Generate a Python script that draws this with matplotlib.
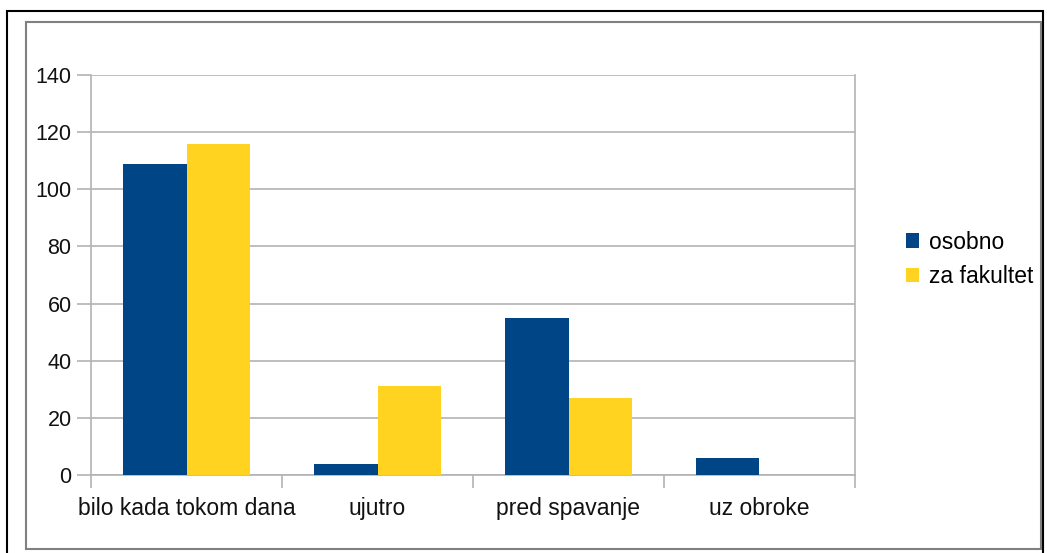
import matplotlib
matplotlib.use("Agg")
import matplotlib.pyplot as plt
import numpy as np
from matplotlib.patches import Rectangle

categories = ["bilo kada tokom dana", "ujutro", "pred spavanje", "uz obroke"]
series_names = ["osobno", "za fakultet"]
osobno = [109, 4, 55, 6]
za_fakultet = [116, 31, 27, 0]
colors = ["#004586", "#ffd320"]

plt.rcParams['font.family'] = ['Liberation Sans', 'DejaVu Sans']

W, H = 1047, 553
fig = plt.figure(figsize=(W / 100, H / 100), dpi=100)

# outer frames
fig.patches.append(Rectangle((7 / W, -0.01), (1043 - 7) / W, (H - 11) / H + 0.01,
                             transform=fig.transFigure, fill=False,
                             edgecolor='black', linewidth=1.5))
fig.patches.append(Rectangle((26 / W, (H - 549) / H), (1041 - 26) / W, (549 - 22) / H,
                             transform=fig.transFigure, fill=False,
                             edgecolor='#808080', linewidth=1.5))

ax = fig.add_axes([91 / W, (H - 475) / H, (855 - 91) / W, 400 / H])

n = len(categories)
x = np.arange(n)
bw = 0.335
ax.bar(x - bw / 2, osobno, width=bw, color=colors[0], label=series_names[0], zorder=3)
ax.bar(x + bw / 2, za_fakultet, width=bw, color=colors[1], label=series_names[1], zorder=3)

ax.set_xlim(-0.5, n - 0.5)
ax.set_ylim(0, 140)
ax.set_yticks(np.arange(0, 141, 20))
ax.yaxis.grid(True, color='#b3b3b3', linewidth=1.2, zorder=0)
ax.set_axisbelow(True)

ax.set_xticks(np.arange(-0.5, n, 1.0))
ax.set_xticklabels([])
ax.set_xticks(x, minor=True)
ax.set_xticklabels(categories, minor=True)
ax.tick_params(axis='x', which='minor', length=0, pad=16, labelsize=16.5, labelcolor='#111111')
ax.tick_params(axis='x', which='major', length=9, color='#b3b3b3', width=1.2)
ax.tick_params(axis='y', length=10, color='#b3b3b3', width=1.2, labelsize=15.5,
               labelcolor='#111111', pad=4)

for s in ['left', 'right', 'bottom']:
    ax.spines[s].set_color('#b3b3b3')
    ax.spines[s].set_linewidth(1.2)
ax.spines['top'].set_visible(False)

leg = fig.legend(loc='upper left', bbox_to_anchor=(885 / W, 1 - 210 / H),
                 frameon=False, fontsize=16.5, handlelength=0.6, handleheight=0.6,
                 handletextpad=0.4, labelspacing=0.5)

fig.savefig("out.png", dpi=100)
